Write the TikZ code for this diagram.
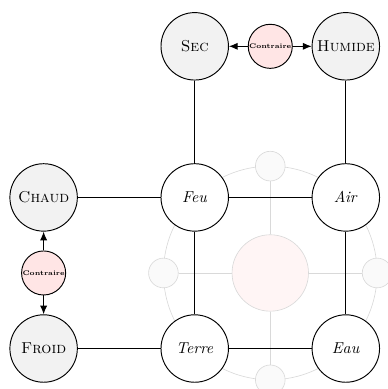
\documentclass[tikz,border=0pt]{standalone}
\usepackage{amsmath}
\usepackage{amssymb}
\usepackage{tikz}
\usetikzlibrary{arrows.meta}
\usetikzlibrary{positioning,shapes.geometric}

\begin{document}
\begin{tikzpicture} [scale=1,
  qualite/.style={circle, draw, semithick, fill=gray!10, minimum size=1.5cm, inner sep=1pt},
  element/.style={circle, draw, semithick, fill=white, minimum size=1.5cm, inner sep=1pt},
  contraire/.style={circle, draw, semithick, fill=red!10, minimum size=0.98cm, inner sep=0.5pt, font=\fontsize{4.2}{5}\selectfont\bfseries},
  ombre/.style={circle, draw=gray!30, fill=gray!4, minimum size=0.66cm},
  quint/.style={circle, draw=gray!30, fill=red!4, minimum size=1.7cm},
  lien/.style={semithick},
  fleche/.style={semithick, -{Latex[length=5.5pt, width=4.5pt]}}]

\useasboundingbox (-6.01,-2.58) rectangle (2.60,6.07);

%\draw [help lines, step=1mm](-6,-2.5) grid (2.5,6);
\draw [gray!30] (0,0) circle (2.376);

\node [quint] (q) at (0,0) {};
\node [ombre] (qn) at (0,2.376) {};
\node [ombre] (qs) at (0,-2.376) {};
\node [ombre] (qo) at (-2.376,0) {};
\node [ombre] (qe) at (2.376,0) {};
\draw [gray!30] (q) -- (qn);
\draw [gray!30] (q) -- (qs);
\draw [gray!30] (q) -- (qo);
\draw [gray!30] (q) -- (qe);

\node [element] (feu) at (-1.68,1.68) {\textit{Feu}};
\node [element] (air) at (1.68,1.68) {\textit{Air}};
\node [element] (terre) at (-1.68,-1.68) {\textit{Terre}};
\node [element] (eau) at (1.68,-1.68) {\textit{Eau}};

\node [qualite] (sec) at (-1.68,5.04) {\textsc{Sec}};
\node [qualite] (humide) at (1.68,5.04) {\textsc{Humide}};
\node [qualite] (chaud) at (-5.04,1.68) {\textsc{Chaud}};
\node [qualite] (froid) at (-5.04,-1.68) {\textsc{Froid}};

\node [contraire] (c1) at (0,5.04) {Contraire};
\node [contraire] (c2) at (-5.04,0) {Contraire};

\draw [lien] (feu) -- (air);
\draw [lien] (terre) -- (eau);
\draw [lien] (feu) -- (terre);
\draw [lien] (air) -- (eau);
\draw [lien] (sec) -- (feu);
\draw [lien] (humide) -- (air);
\draw [lien] (chaud) -- (feu);
\draw [lien] (froid) -- (terre);

\draw [fleche] (c1) -- (sec);
\draw [fleche] (c1) -- (humide);
\draw [fleche] (c2) -- (chaud);
\draw [fleche] (c2) -- (froid);

\end{tikzpicture}
\end{document}
